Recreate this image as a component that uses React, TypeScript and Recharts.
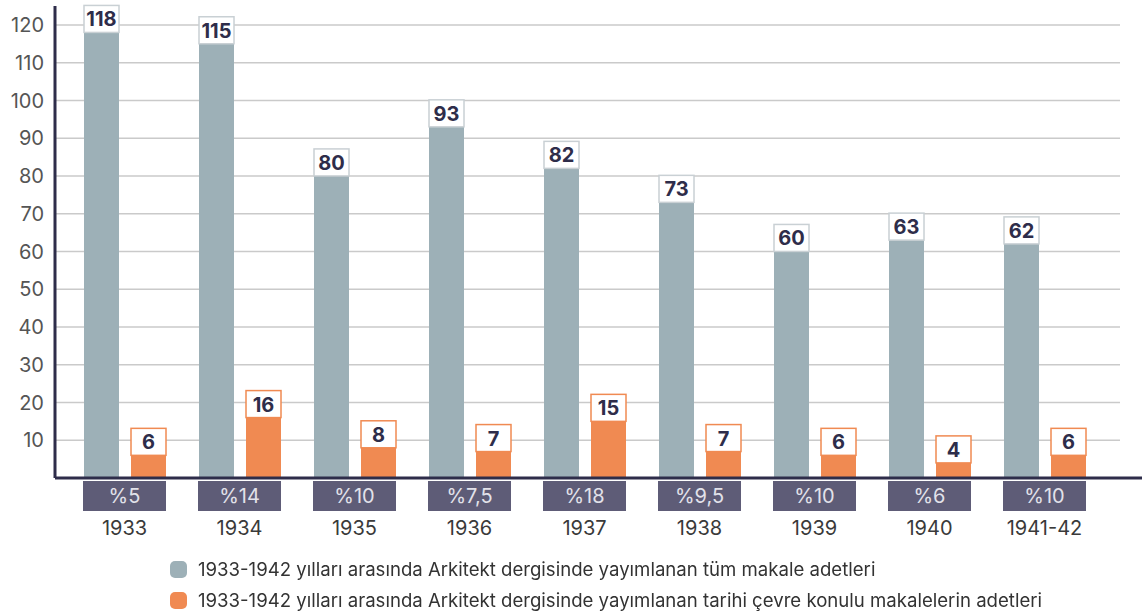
import React from 'react';
import { BarChart, Bar, XAxis, YAxis, CartesianGrid, LabelList } from 'recharts';

const years = ['1933', '1934', '1935', '1936', '1937', '1938', '1939', '1940', '1941-42'];
const allArticles = [118, 115, 80, 93, 82, 73, 60, 63, 62];
const historicArticles = [6, 16, 8, 7, 15, 7, 6, 4, 6];
const shares = ['%5', '%14', '%10', '%7,5', '%18', '%9,5', '%10', '%6', '%10'];
const yTicks = [10, 20, 30, 40, 50, 60, 70, 80, 90, 100, 110, 120];
const gridValues = [5, 10, 15, 20, 25, 30, 35, 40, 45, 50, 55, 60, 65, 70, 75, 80, 85, 90, 95, 100, 105, 110, 115, 120];

const legendLabels = [
  '1933-1942 yılları arasında Arkitekt dergisinde yayımlanan tüm makale adetleri',
  '1933-1942 yılları arasında Arkitekt dergisinde yayımlanan tarihi çevre konulu makalelerin adetleri',
];

const GREY = '#9db0b7';
const ORANGE = '#f08a52';
const SLATE = '#5e5c77';
const DARK = '#2e2d4a';
const FONT = 'Inter, "Noto Sans", sans-serif';

const data = years.map((year, i) => ({
  year,
  all: allArticles[i],
  historic: historicArticles[i],
  share: shares[i],
}));

const makeLabel = (border: string) => (props: any) => {
  const { x, y, width, value } = props;
  return (
    <g>
      <rect x={x} y={y - 27} width={width} height={27} fill="#fff" stroke={border} strokeWidth={1.5} />
      <text
        x={x + width / 2}
        y={y - 13}
        textAnchor="middle"
        dominantBaseline="central"
        fontFamily={FONT}
        fontWeight={700}
        fontSize={20}
        fill={DARK}
      >
        {value}
      </text>
    </g>
  );
};

const YearTick = (props: any) => {
  const { x, y, index, payload } = props;
  return (
    <g>
      <rect x={x - 41.5} y={y - 5} width={83} height={30} fill={SLATE} />
      <text x={x} y={y + 10} textAnchor="middle" dominantBaseline="central" fontFamily={FONT} fontSize={20} fill="#e2e2ea">
        {shares[index]}
      </text>
      <text x={x} y={y + 42} textAnchor="middle" dominantBaseline="central" fontFamily={FONT} fontSize={20} fill="#3a3a3a">
        {payload.value}
      </text>
    </g>
  );
};

const GridLine = (props: any) => {
  const { x1, x2, y1, y2 } = props;
  return <line x1={x1} x2={x2 - 22} y1={y1} y2={y2} stroke="#cacaca" strokeWidth={1.5} />;
};

export default function App() {
  return (
    <div style={{ position: 'fixed', left: 0, top: 0, width: 1142, height: 614, background: '#fff', fontFamily: FONT }}>
      <BarChart
        width={1142}
        height={614}
        data={data}
        margin={{ top: 6, right: 0, left: 0, bottom: 76 }}
        barSize={35}
        barGap={12}
      >
        <CartesianGrid vertical={false} horizontalValues={gridValues} horizontal={GridLine} />
        <XAxis
          dataKey="year"
          height={60}
          padding={{ left: 12, right: 40 }}
          axisLine={{ stroke: DARK, strokeWidth: 3 }}
          tickLine={false}
          tick={<YearTick />}
          interval={0}
        />
        <YAxis
          width={55}
          domain={[0, 125]}
          ticks={yTicks}
          allowDataOverflow
          axisLine={{ stroke: DARK, strokeWidth: 3 }}
          tickLine={false}
          tickMargin={5}
          tick={{ fill: '#555', fontSize: 20, fontFamily: FONT }}
        />
        <Bar dataKey="all" fill={GREY} isAnimationActive={false}>
          <LabelList dataKey="all" content={makeLabel('#c9d0d4')} />
        </Bar>
        <Bar dataKey="historic" fill={ORANGE} isAnimationActive={false}>
          <LabelList dataKey="historic" content={makeLabel(ORANGE)} />
        </Bar>
      </BarChart>
      <div style={{ position: 'absolute', left: 170, top: 554, fontSize: 18.6, color: '#333', lineHeight: '31px' }}>
        {legendLabels.map((label, i) => (
          <div key={label} style={{ display: 'flex', alignItems: 'center' }}>
            <span
              style={{
                display: 'inline-block',
                width: 17,
                height: 17,
                borderRadius: 5,
                background: i === 0 ? GREY : ORANGE,
                marginRight: 11,
              }}
            />
            <span>{label}</span>
          </div>
        ))}
      </div>
    </div>
  );
}
